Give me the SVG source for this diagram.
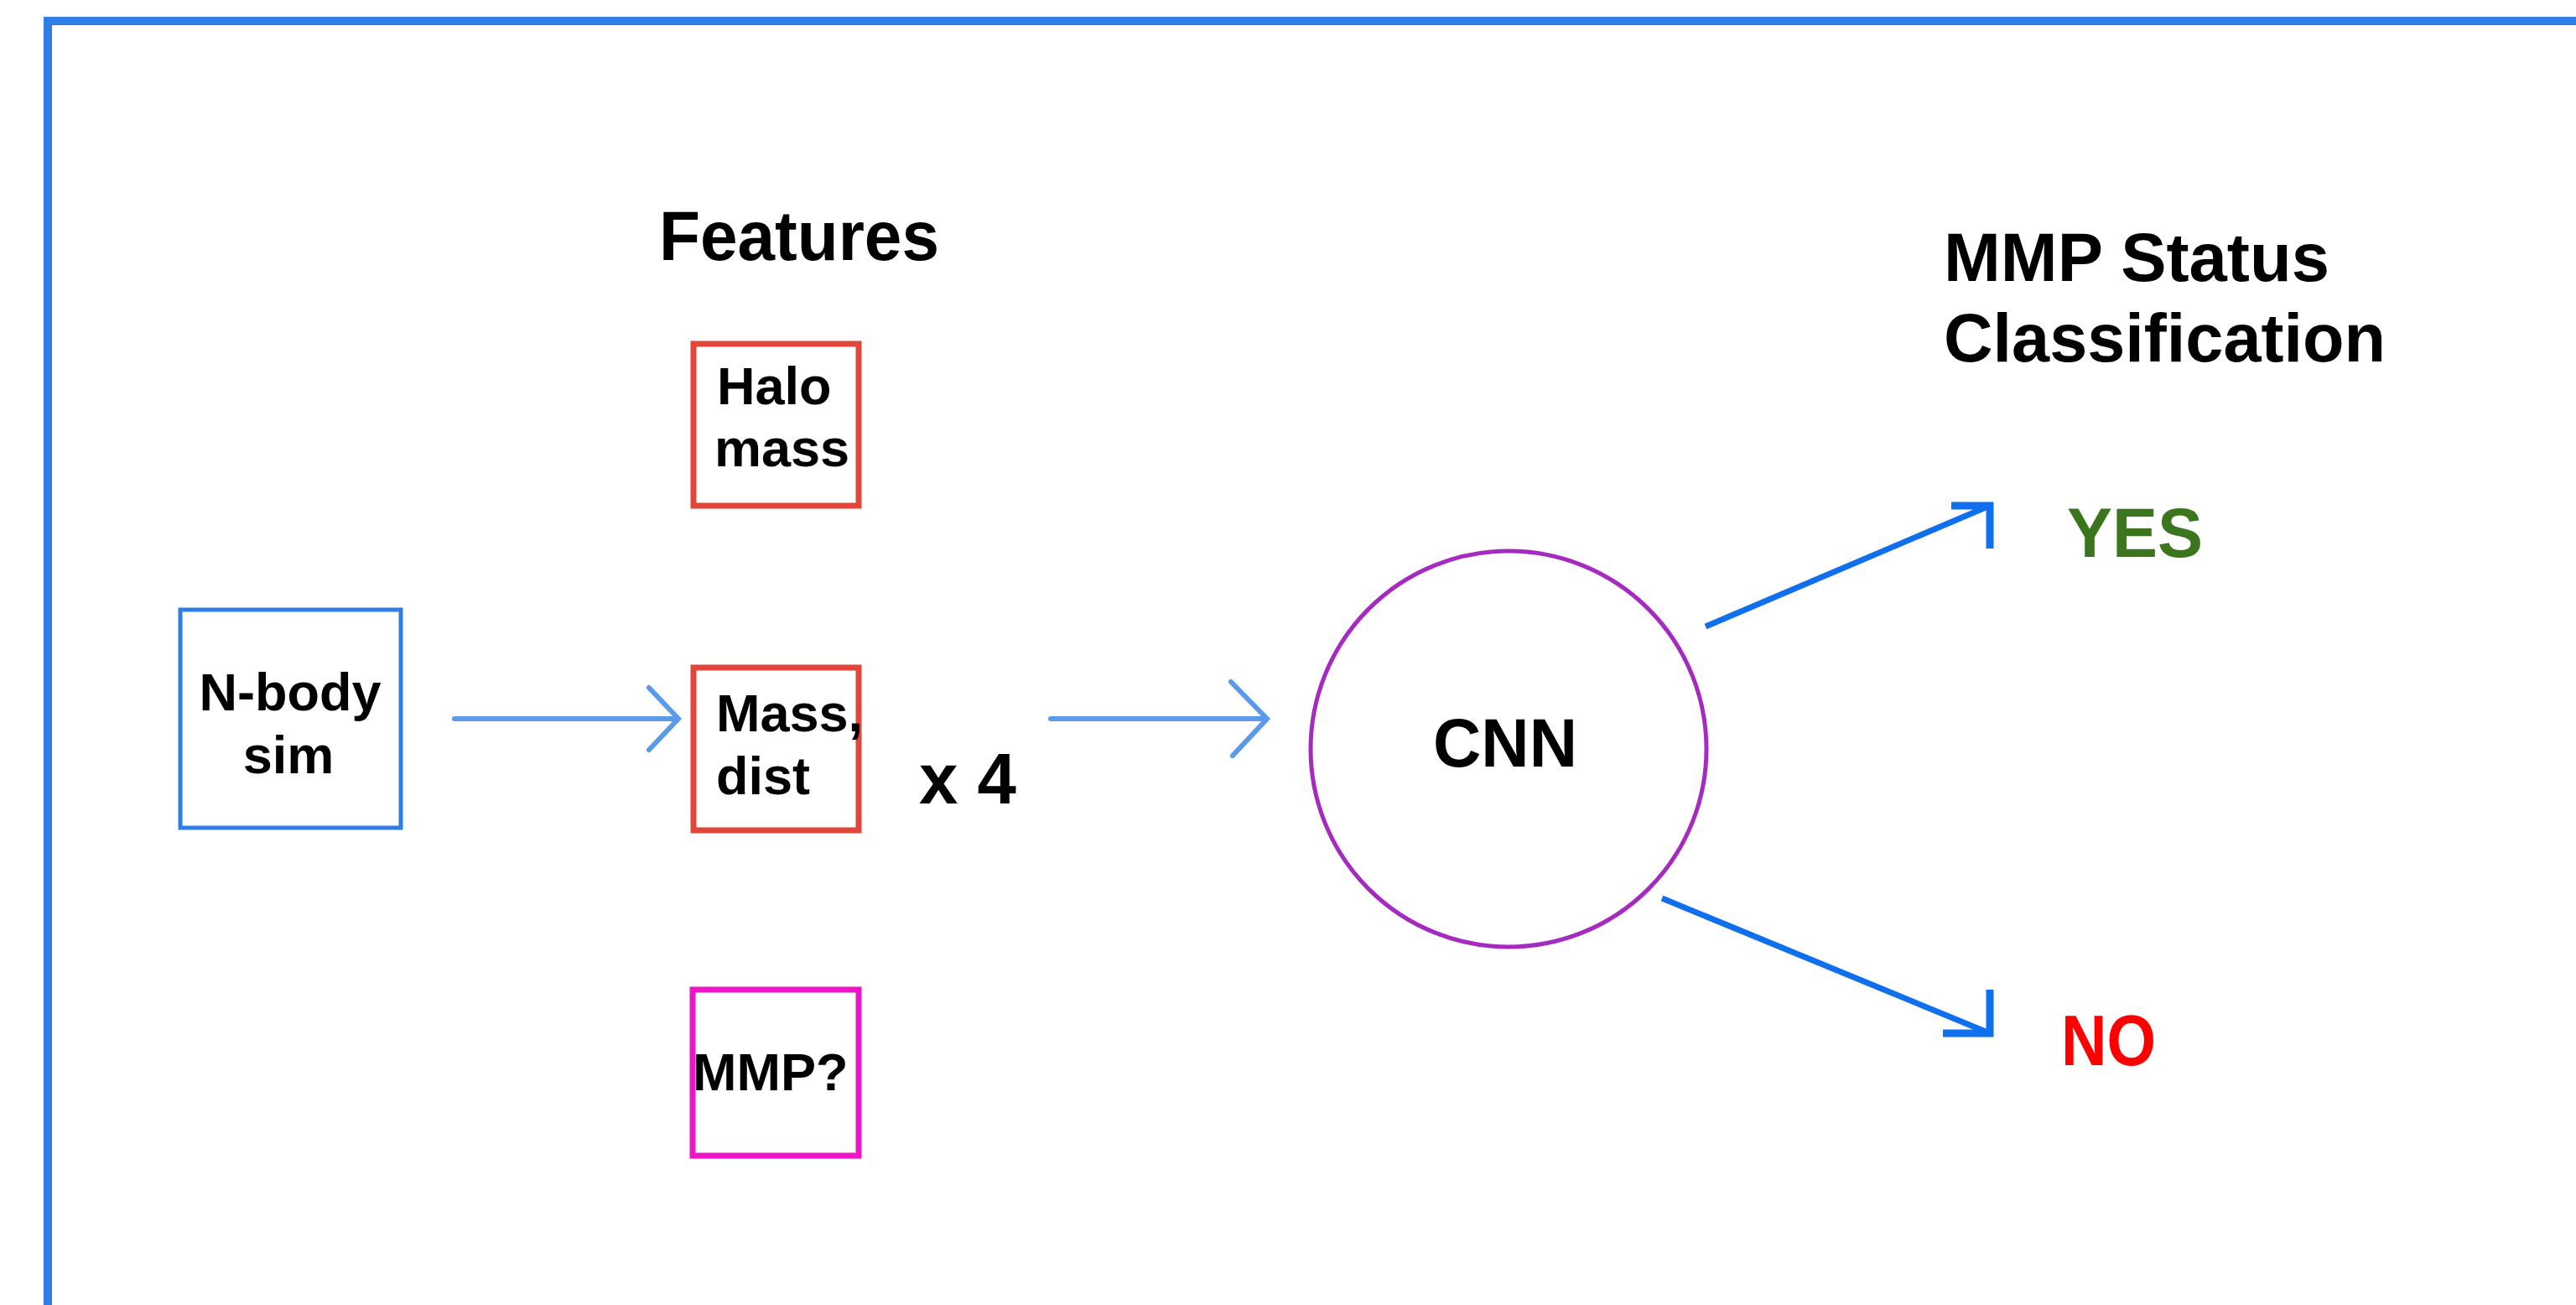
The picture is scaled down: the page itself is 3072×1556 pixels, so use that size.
<svg xmlns="http://www.w3.org/2000/svg" width="3072" height="1556" viewBox="0 0 3072 1556">
  <style>
    .lbl { font-family: "Liberation Sans", Arial, sans-serif; font-weight: bold; fill: #000; }
    .box { fill: #fff; }
    .thin { fill: none; stroke: #5b9ae8; stroke-width: 6; stroke-linecap: round; stroke-linejoin: miter; }
    .bold { fill: none; stroke: #0f6fec; stroke-width: 7; stroke-linecap: butt; }
    .head { fill: none; stroke: #0f6fec; stroke-width: 9; stroke-linecap: butt; stroke-linejoin: miter; }
  </style>
  <rect width="3072" height="1556" fill="#fff"/>

  <!-- outer frame, open to the right and bottom -->
  <path d="M57,1560 V25 H3080" fill="none" stroke="#2f7ee6" stroke-width="10"/>

  <!-- headings -->
  <text class="lbl" x="786" y="310" font-size="83" textLength="334" lengthAdjust="spacingAndGlyphs">Features</text>
  <text class="lbl" x="2318" y="335" font-size="81" textLength="460" lengthAdjust="spacingAndGlyphs">MMP Status</text>
  <text class="lbl" x="2318" y="431" font-size="81" textLength="527" lengthAdjust="spacingAndGlyphs">Classification</text>

  <g id="nbody">
    <rect class="box" x="215" y="727" width="263" height="260" stroke="#2f7ee6" stroke-width="5"/>
    <text class="lbl" x="346" y="847" font-size="63" text-anchor="middle">N-body</text>
    <text class="lbl" x="344" y="922" font-size="63" text-anchor="middle">sim</text>
  </g>

  <g id="halo-mass">
    <rect class="box" x="827" y="410" width="197" height="193" stroke="#e2453a" stroke-width="7"/>
    <text class="lbl" x="855" y="482" font-size="63">Halo</text>
    <text class="lbl" x="852" y="556" font-size="63">mass</text>
  </g>

  <g id="mass-dist">
    <rect class="box" x="827" y="796" width="197" height="194" stroke="#e2453a" stroke-width="7"/>
    <text class="lbl" x="854" y="872" font-size="63">Mass,</text>
    <text class="lbl" x="854" y="947" font-size="63">dist</text>
  </g>

  <g id="mmp">
    <rect class="box" x="826" y="1180" width="198" height="198" stroke="#ec16c6" stroke-width="7"/>
    <text class="lbl" x="826" y="1300" font-size="63">MMP?</text>
  </g>

  <text class="lbl" x="1096" y="958" font-size="85" textLength="116" lengthAdjust="spacingAndGlyphs">x 4</text>

  <g id="cnn">
    <circle cx="1799" cy="893" r="236" fill="#fff" stroke="#a52ac0" stroke-width="5"/>
    <text class="lbl" x="1795" y="914" font-size="82" text-anchor="middle" textLength="172" lengthAdjust="spacingAndGlyphs">CNN</text>
  </g>

  <g id="yes">
    <text class="lbl" x="2465" y="664" font-size="84" textLength="162" lengthAdjust="spacingAndGlyphs" style="fill:#3b761e">YES</text>
  </g>
  <g id="no">
    <text class="lbl" x="2458" y="1270" font-size="86" textLength="113" lengthAdjust="spacingAndGlyphs" style="fill:#ff0000">NO</text>
  </g>

  <g id="connectors">
    <line class="thin" x1="542" y1="857" x2="808" y2="857"/>
    <polyline class="thin" points="774,820 809,857 774,894"/>
    <line class="thin" x1="1253" y1="857" x2="1510" y2="857"/>
    <polyline class="thin" points="1468,813 1511,857 1470,901"/>

    <line class="bold" x1="2034" y1="747" x2="2368" y2="605"/>
    <polyline class="head" points="2327,603 2373,603 2373,654"/>
    <line class="bold" x1="1982" y1="1071" x2="2368" y2="1230"/>
    <polyline class="head" points="2373,1180 2373,1232 2317,1232"/>
  </g>
</svg>
